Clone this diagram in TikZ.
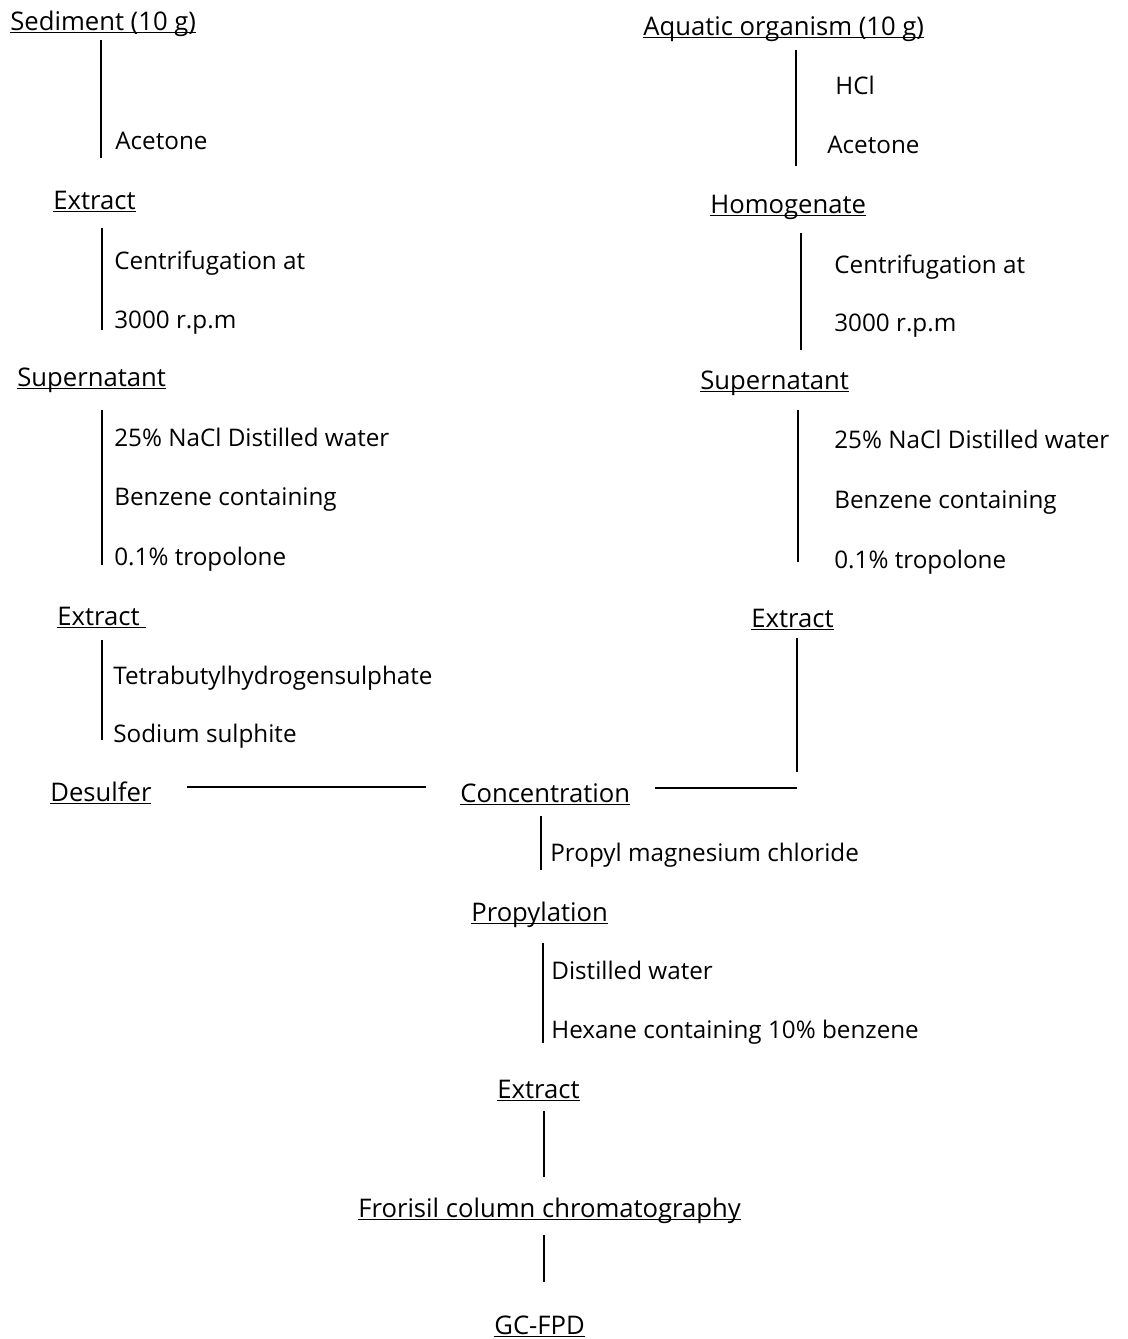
\documentclass[tikz,border=0pt]{standalone}
\usepackage{fontspec}
\setmainfont{Open Sans}
\usepackage{tikz}

\newcommand{\ul}[1]{\underline{\smash{#1}}}

\tikzset{
    stage/.style={anchor=base west, inner sep=0pt, font=\fontsize{14.6}{17}\selectfont},
    reagent/.style={anchor=base west, inner sep=0pt},
    link/.style={line width=1.1pt}
}

\begin{document}
\begin{tikzpicture}[x=0.02cm, y=-0.02cm, font=\fontsize{13.8}{16}\selectfont]
    \useasboundingbox (0, 0) rectangle (1127, 1339);

    \node[stage] at (10, 30) (sed) {\ul{Sediment (10 g)}};
    \node[reagent] at (115, 149) (aceL) {Acetone};
    \node[stage] at (53, 209) (extL) {\ul{Extract}};
    \node[reagent] at (114, 269) (cenL) {Centrifugation at};
    \node[reagent] at (114, 328) (rpmL) {3000 r.p.m};
    \node[stage] at (17, 386) (supL) {\ul{Supernatant}};
    \node[reagent] at (114, 446) (naclL) {25\% NaCl Distilled water};
    \node[reagent] at (114, 505) (benL) {Benzene containing};
    \node[reagent] at (114, 565) (troL) {0.1\% tropolone};
    \node[stage] at (57, 625) (extLL) {\ul{Extract\ }};
    \node[reagent] at (113, 684) (tetra) {Tetrabutylhydrogensulphate};
    \node[reagent] at (113, 742) (sodium) {Sodium sulphite};
    \node[stage] at (50, 801) (desulf) {\ul{Desulfer}};

    \node[stage] at (643, 35) (aqua) {\ul{Aquatic organism (10 g)}};
    \node[reagent] at (835, 94) (hcl) {HCl};
    \node[reagent] at (827, 153) (aceR) {Acetone};
    \node[stage] at (710, 213) (homo) {\ul{Homogenate}};
    \node[reagent] at (834, 273) (cenR) {Centrifugation at};
    \node[reagent] at (834, 331) (rpmR) {3000 r.p.m};
    \node[stage] at (700, 389) (supR) {\ul{Supernatant}};
    \node[reagent] at (834, 448) (naclR) {25\% NaCl Distilled water};
    \node[reagent] at (834, 508) (benR) {Benzene containing};
    \node[reagent] at (834, 568) (troR) {0.1\% tropolone};
    \node[stage] at (751, 627) (extR) {\ul{Extract}};

    \node[stage] at (460, 802) (conc) {\ul{Concentration}};
    \node[reagent] at (550, 861) (grig) {Propyl magnesium chloride};
    \node[stage] at (471, 921) (propyl) {\ul{Propylation}};
    \node[reagent] at (551, 979) (water) {Distilled water};
    \node[reagent] at (551, 1038) (hexane) {Hexane containing 10\% benzene};
    \node[stage] at (497, 1098) (extC) {\ul{Extract}};
    \node[stage] at (358, 1217) (florisil) {\ul{Frorisil column chromatography}};
    \node[stage] at (494, 1334) (gc) {\ul{GC-FPD}};

    \coordinate (l1a) at (101, 40);    \coordinate (l1b) at (101, 158);
    \coordinate (l2a) at (102, 228);   \coordinate (l2b) at (102, 330);
    \coordinate (l3a) at (102, 410);   \coordinate (l3b) at (102, 565);
    \coordinate (l4a) at (102, 640);   \coordinate (l4b) at (102, 740);
    \coordinate (r1a) at (796, 50);    \coordinate (r1b) at (796, 166);
    \coordinate (r2a) at (801, 233);   \coordinate (r2b) at (801, 350);
    \coordinate (r3a) at (798, 410);   \coordinate (r3b) at (798, 562);
    \coordinate (r4a) at (797, 638);   \coordinate (r4b) at (797, 772);
    \coordinate (h1a) at (187, 787);   \coordinate (h1b) at (426, 787);
    \coordinate (h2a) at (655, 788);   \coordinate (h2b) at (797, 788);
    \coordinate (c1a) at (541, 816);   \coordinate (c1b) at (541, 870);
    \coordinate (c2a) at (543, 943);   \coordinate (c2b) at (543, 1043);
    \coordinate (c3a) at (544, 1111);  \coordinate (c3b) at (544, 1177);
    \coordinate (c4a) at (544, 1235);  \coordinate (c4b) at (544, 1282);

    \draw[link] (l1a) -- (l1b);
    \draw[link] (l2a) -- (l2b);
    \draw[link] (l3a) -- (l3b);
    \draw[link] (l4a) -- (l4b);
    \draw[link] (r1a) -- (r1b);
    \draw[link] (r2a) -- (r2b);
    \draw[link] (r3a) -- (r3b);
    \draw[link] (r4a) -- (r4b);
    \draw[link] (h1a) -- (h1b);
    \draw[link] (h2a) -- (h2b);
    \draw[link] (c1a) -- (c1b);
    \draw[link] (c2a) -- (c2b);
    \draw[link] (c3a) -- (c3b);
    \draw[link] (c4a) -- (c4b);
\end{tikzpicture}
\end{document}
